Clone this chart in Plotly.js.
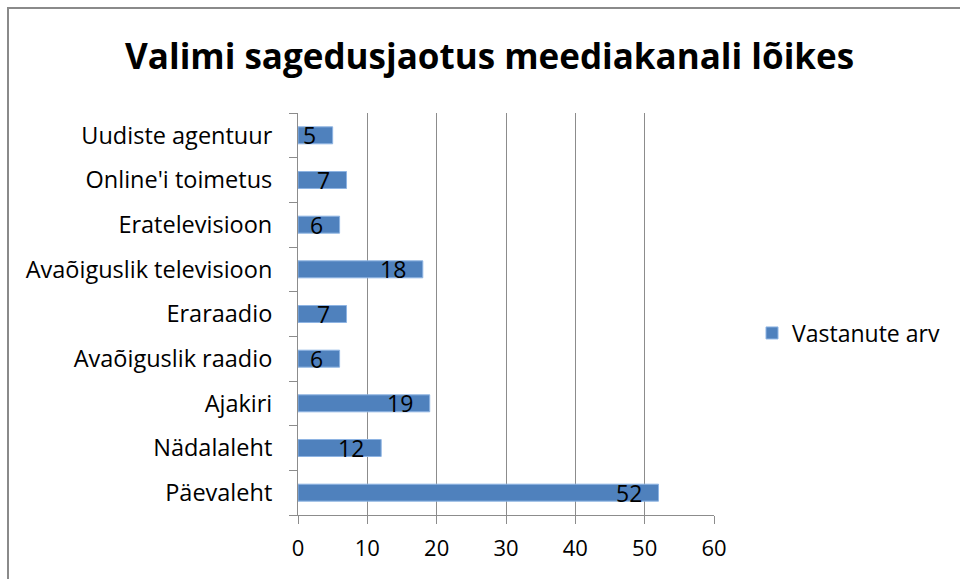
<!DOCTYPE html>
<html>
<head>
<meta charset="utf-8">
<script src="https://cdn.plot.ly/plotly-3.0.1.min.js"></script>
<style>
  html, body { margin: 0; padding: 0; background: #ffffff; overflow: hidden; }
  #chart { width: 960px; height: 579px; position: absolute; left: 0; top: 0; }
  #frame { position: absolute; left: 7px; top: 7px; width: 1000px; height: 700px;
           border-left: 2px solid #8a8a8a; border-top: 2px solid #8a8a8a; pointer-events: none; }
</style>
</head>
<body>
<div id="chart"></div>
<div id="frame"></div>
<script>
const categories = ["Päevaleht", "Nädalaleht", "Ajakiri", "Avaõiguslik raadio", "Eraraadio",
                    "Avaõiguslik televisioon", "Eratelevisioon", "Online'i toimetus", "Uudiste agentuur"];
const values = [52, 12, 19, 6, 7, 18, 6, 7, 5];
const seriesName = "Vastanute arv";
const xTicks = [0, 10, 20, 30, 40, 50, 60];
const chartTitle = "Valimi sagedusjaotus meediakanali lõikes";

const FONT = "Open Sans, Lato, sans-serif";

const trace = {
  type: "bar",
  orientation: "h",
  y: categories,
  x: values,
  name: seriesName,
  marker: { color: "#4F81BD", line: { color: "#8EB4E3", width: 1 } },
  hoverinfo: "none",
  showlegend: true
};

const annotations = values.map((v, i) => ({
  x: v, y: categories[i], xref: "x", yref: "y",
  text: String(v), showarrow: false, xanchor: "right", yanchor: "middle",
  xshift: -15, yshift: 0,
  font: { family: FONT, size: 23, color: "#000000" }
}));

const layout = {
  width: 960, height: 579,
  paper_bgcolor: "#ffffff", plot_bgcolor: "#ffffff",
  margin: { l: 298, r: 246, t: 113, b: 64, pad: 0, autoexpand: false },
  title: {
    text: "<b>" + chartTitle + "</b>",
    font: { family: FONT, size: 35, color: "#000000" },
    xref: "container", x: 0.51, xanchor: "center",
    yref: "container", y: 1 - 57 / 579, yanchor: "middle"
  },
  bargap: 0.62,
  xaxis: {
    range: [0, 60], tickvals: xTicks, ticktext: xTicks.map(String),
    showgrid: true, gridcolor: "#8c8c8c", gridwidth: 1,
    showline: true, linecolor: "#8c8c8c", linewidth: 1,
    ticks: "outside", ticklen: 8, tickcolor: "#8c8c8c", tickwidth: 1,
    tickfont: { family: FONT, size: 22, color: "#000000" },
    ticklabelstandoff: 6,
    zeroline: false, fixedrange: true, automargin: false
  },
  yaxis: {
    type: "category", categoryorder: "array", categoryarray: categories,
    showgrid: false, showline: true, linecolor: "#8c8c8c", linewidth: 1,
    ticks: "outside", ticklen: 8, tickcolor: "#8c8c8c", tickwidth: 1,
    tickson: "boundaries",
    tickfont: { family: FONT, size: 23.5, color: "#000000" },
    ticklabelstandoff: 20,
    fixedrange: true, automargin: false
  },
  legend: {
    x: (752 - 298) / 416, xanchor: "left", y: (515 - 333) / 402, yanchor: "middle",
    font: { family: FONT, size: 23, color: "#000000" },
    itemwidth: 30, bgcolor: "rgba(0,0,0,0)"
  },
  annotations: annotations,
  showlegend: true
};

Plotly.newPlot("chart", [trace], layout, { displayModeBar: false, staticPlot: true });
</script>
</body>
</html>
